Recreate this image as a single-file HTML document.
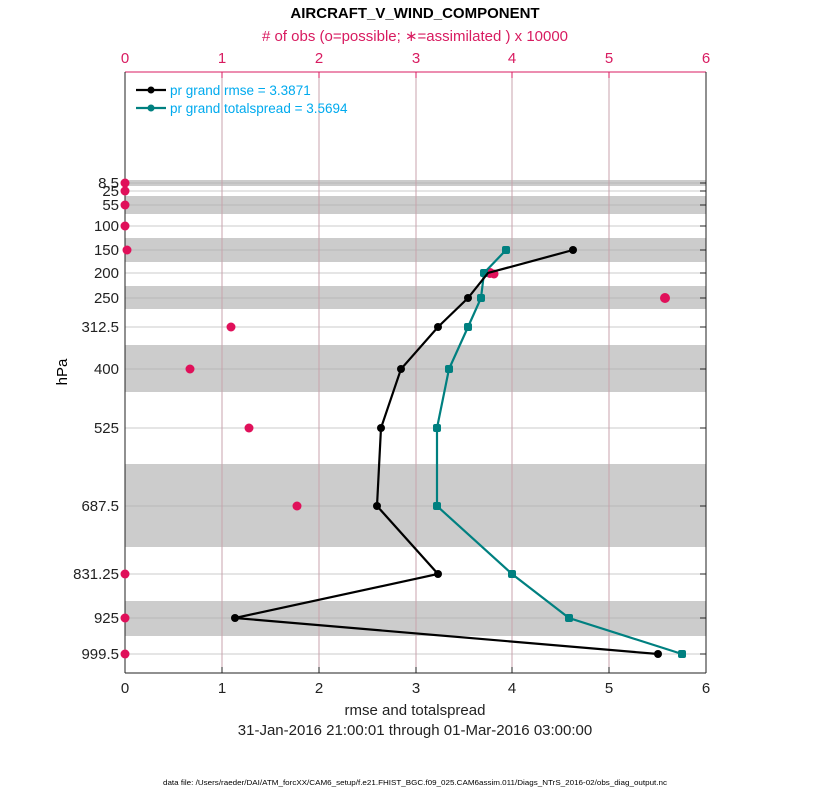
<!DOCTYPE html>
<html><head><style>body{margin:0;background:#fff}svg{display:block}</style></head><body>
<svg width="830" height="800" xmlns="http://www.w3.org/2000/svg" font-family="Liberation Sans, sans-serif">
<rect width="830" height="800" fill="#fff"/>
<g fill="#cccccc">
<rect x="125" y="180" width="581" height="6"/>
<rect x="125" y="196" width="581" height="18"/>
<rect x="125" y="238" width="581" height="24"/>
<rect x="125" y="286" width="581" height="23"/>
<rect x="125" y="345" width="581" height="47"/>
<rect x="125" y="464" width="581" height="83"/>
<rect x="125" y="601" width="581" height="35"/>
</g>
<g stroke="#aaa" stroke-width="1" opacity="0.6">
<line x1="125" x2="706" y1="183" y2="183"/><line x1="125" x2="706" y1="191" y2="191"/>
<line x1="125" x2="706" y1="205" y2="205"/><line x1="125" x2="706" y1="226" y2="226"/>
<line x1="125" x2="706" y1="250" y2="250"/><line x1="125" x2="706" y1="273" y2="273"/>
<line x1="125" x2="706" y1="298" y2="298"/><line x1="125" x2="706" y1="327" y2="327"/>
<line x1="125" x2="706" y1="369" y2="369"/><line x1="125" x2="706" y1="428" y2="428"/>
<line x1="125" x2="706" y1="506" y2="506"/><line x1="125" x2="706" y1="574" y2="574"/>
<line x1="125" x2="706" y1="618" y2="618"/><line x1="125" x2="706" y1="654" y2="654"/>
</g>
<g stroke="#c9a3ad" stroke-width="1">
<line x1="222" x2="222" y1="72" y2="673"/><line x1="319" x2="319" y1="72" y2="673"/>
<line x1="416" x2="416" y1="72" y2="673"/><line x1="512" x2="512" y1="72" y2="673"/>
<line x1="609" x2="609" y1="72" y2="673"/>
</g>
<line x1="125" x2="706" y1="72" y2="72" stroke="#d81b60" stroke-width="1"/>
<line x1="125" x2="706" y1="673" y2="673" stroke="#222"/>
<line x1="125" x2="125" y1="72" y2="673" stroke="#222"/>
<line x1="706" x2="706" y1="72" y2="673" stroke="#222"/>
<g stroke="#d81b60"><line x1="222" x2="222" y1="72" y2="78"/><line x1="319" x2="319" y1="72" y2="78"/><line x1="416" x2="416" y1="72" y2="78"/><line x1="512" x2="512" y1="72" y2="78"/><line x1="609" x2="609" y1="72" y2="78"/></g>
<g stroke="#222"><line x1="222" x2="222" y1="673" y2="667"/><line x1="319" x2="319" y1="673" y2="667"/><line x1="416" x2="416" y1="673" y2="667"/><line x1="512" x2="512" y1="673" y2="667"/><line x1="609" x2="609" y1="673" y2="667"/>
<g><line x1="700" x2="706" y1="183" y2="183"/><line x1="700" x2="706" y1="191" y2="191"/><line x1="700" x2="706" y1="205" y2="205"/><line x1="700" x2="706" y1="226" y2="226"/><line x1="700" x2="706" y1="250" y2="250"/><line x1="700" x2="706" y1="273" y2="273"/><line x1="700" x2="706" y1="298" y2="298"/><line x1="700" x2="706" y1="327" y2="327"/><line x1="700" x2="706" y1="369" y2="369"/><line x1="700" x2="706" y1="428" y2="428"/><line x1="700" x2="706" y1="506" y2="506"/><line x1="700" x2="706" y1="574" y2="574"/><line x1="700" x2="706" y1="618" y2="618"/><line x1="700" x2="706" y1="654" y2="654"/></g></g>
<text x="415" y="18" text-anchor="middle" font-size="15" font-weight="bold">AIRCRAFT_V_WIND_COMPONENT</text>
<text x="415" y="41" text-anchor="middle" font-size="15" fill="#d81b60"># of obs (o=possible; ∗=assimilated ) x 10000</text>
<g font-size="15" fill="#d81b60" text-anchor="middle">
<text x="125" y="63">0</text><text x="222" y="63">1</text><text x="319" y="63">2</text><text x="416" y="63">3</text><text x="512" y="63">4</text><text x="609" y="63">5</text><text x="706" y="63">6</text></g>
<g font-size="15" fill="#222" text-anchor="middle">
<text x="125" y="693">0</text><text x="222" y="693">1</text><text x="319" y="693">2</text><text x="416" y="693">3</text><text x="512" y="693">4</text><text x="609" y="693">5</text><text x="706" y="693">6</text>
<text x="415" y="715">rmse and totalspread</text>
<text x="415" y="735">31-Jan-2016 21:00:01 through 01-Mar-2016 03:00:00</text></g>
<g font-size="15" fill="#222" text-anchor="end">
<text x="119" y="188">8.5</text><text x="119" y="196">25</text><text x="119" y="210">55</text><text x="119" y="231">100</text><text x="119" y="255">150</text><text x="119" y="278">200</text><text x="119" y="303">250</text><text x="119" y="332">312.5</text><text x="119" y="374">400</text><text x="119" y="433">525</text><text x="119" y="511">687.5</text><text x="119" y="579">831.25</text><text x="119" y="623">925</text><text x="119" y="659">999.5</text></g>
<text x="67" y="372" font-size="15" text-anchor="middle" transform="rotate(-90 67 372)">hPa</text>
<text x="163" y="785" font-size="7.5" textLength="504" lengthAdjust="spacingAndGlyphs">data file: /Users/raeder/DAI/ATM_forcXX/CAM6_setup/f.e21.FHIST_BGC.f09_025.CAM6assim.011/Diags_NTrS_2016-02/obs_diag_output.nc</text>
<g fill="#e0105a">
<circle cx="125" cy="183" r="4.5"/><circle cx="125" cy="191" r="4.5"/><circle cx="125" cy="205" r="4.5"/><circle cx="125" cy="226" r="4.5"/><circle cx="127" cy="250" r="4.5"/><circle cx="490" cy="273" r="5"/><circle cx="494" cy="274" r="4.5"/><circle cx="665" cy="298" r="5"/><circle cx="231" cy="327" r="4.5"/><circle cx="190" cy="369" r="4.5"/><circle cx="249" cy="428" r="4.5"/><circle cx="297" cy="506" r="4.5"/><circle cx="125" cy="574" r="4.5"/><circle cx="125" cy="618" r="4.5"/><circle cx="125" cy="654" r="4.5"/></g>
<polyline fill="none" stroke="#008080" stroke-width="2.2" points="506,250 484,273 481,298 468,327 449,369 437,428 437,506 512,574 569,618 682,654"/>
<g fill="#008080"><rect x="502" y="246" width="8" height="8" rx="2"/><rect x="480" y="269" width="8" height="8" rx="2"/><rect x="477" y="294" width="8" height="8" rx="2"/><rect x="464" y="323" width="8" height="8" rx="2"/><rect x="445" y="365" width="8" height="8" rx="2"/><rect x="433" y="424" width="8" height="8" rx="2"/><rect x="433" y="502" width="8" height="8" rx="2"/><rect x="508" y="570" width="8" height="8" rx="2"/><rect x="565" y="614" width="8" height="8" rx="2"/><rect x="678" y="650" width="8" height="8" rx="2"/></g>
<polyline fill="none" stroke="#000" stroke-width="2.2" points="573,250 488,273 468,298 438,327 401,369 381,428 377,506 438,574 235,618 658,654"/>
<g fill="#000"><circle cx="573" cy="250" r="4"/><circle cx="468" cy="298" r="4"/><circle cx="438" cy="327" r="4"/><circle cx="401" cy="369" r="4"/><circle cx="381" cy="428" r="4"/><circle cx="377" cy="506" r="4"/><circle cx="438" cy="574" r="4"/><circle cx="235" cy="618" r="4"/><circle cx="658" cy="654" r="4"/></g>
<line x1="136" x2="166" y1="90" y2="90" stroke="#000" stroke-width="2.2"/><circle cx="151" cy="90" r="3.5" fill="#000"/>
<line x1="136" x2="166" y1="108" y2="108" stroke="#008080" stroke-width="2.2"/><circle cx="151" cy="108" r="3.5" fill="#008080"/>
<text x="170" y="95" font-size="13.5" fill="#00aaee">pr grand rmse = 3.3871</text>
<text x="170" y="113" font-size="13.5" fill="#00aaee">pr grand totalspread = 3.5694</text>
</svg>
</body></html>
